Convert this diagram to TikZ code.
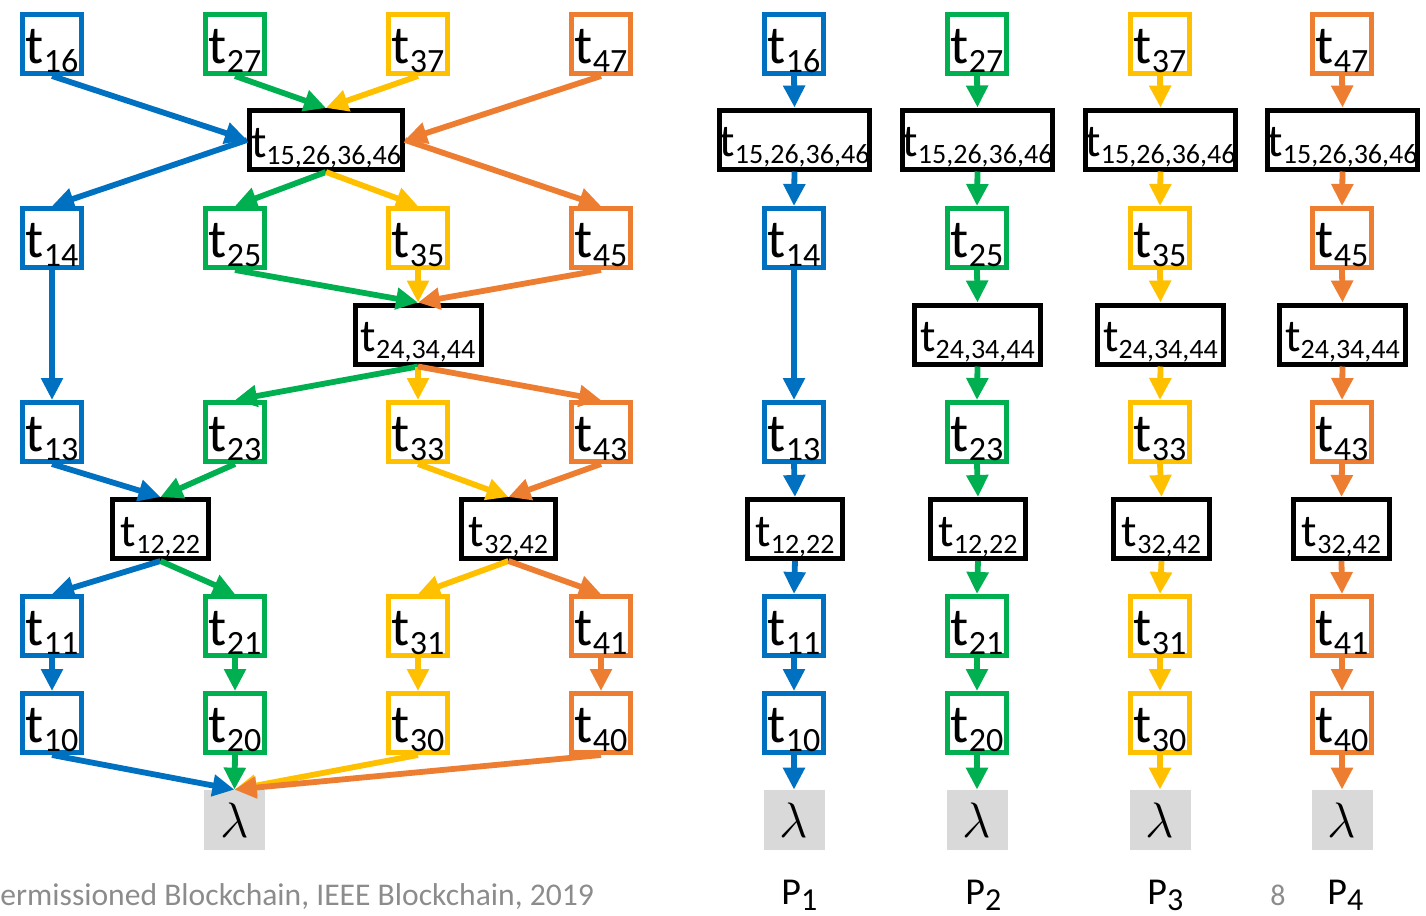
\documentclass[tikz,border=0pt]{standalone}
\usepackage{fontspec}
\setmainfont{Carlito}
\usetikzlibrary{arrows.meta}
\definecolor{cblue}{HTML}{0070C0}
\definecolor{cgreen}{HTML}{00B050}
\definecolor{cyellow}{HTML}{FFC000}
\definecolor{corange}{HTML}{ED7D31}
\definecolor{lgray}{HTML}{D9D9D9}
\definecolor{fgray}{HTML}{8C8C8C}
\newcommand\tS[1]{t\raisebox{-4.5pt}{\fontsize{17}{17}\selectfont #1}}
\newcommand\tB[1]{t\raisebox{-3.5pt}{\fontsize{14}{14}\selectfont #1}}
\newcommand\pS[1]{P\raisebox{-3pt}{\fontsize{16}{16}\selectfont #1}}
\begin{document}
\begin{tikzpicture}[x=0.5pt,y=-0.5pt,
  sbox/.style={draw=#1, line width=2.5pt, minimum width=29.5pt, minimum height=29.5pt,
    inner sep=0pt, text height=19pt, text depth=0pt, font=\fontsize{27}{27}\selectfont},
  bbox/.style={draw=black, line width=2.5pt, minimum width=#1, minimum height=29.5pt,
    inner sep=0pt, text height=17pt, text depth=0pt, font=\fontsize{23}{23}\selectfont},
  lam/.style={fill=lgray, minimum width=30.5pt, minimum height=30pt, inner sep=0pt,
    font=\fontsize{25}{25}\selectfont},
  arr/.style={draw=#1, line width=2.9pt, -{Triangle[width=10.5pt,length=11pt]}},
  plab/.style={anchor=base west, inner sep=0pt, font=\fontsize{19}{19}\selectfont},
]
\useasboundingbox (0,0) rectangle (1426,916);

% ---------- left graph ----------
\node[sbox=cblue]   (l16) at (52,44)  {\tS{16}};
\node[sbox=cgreen]  (l27) at (235,44) {\tS{27}};
\node[sbox=cyellow] (l37) at (418,44) {\tS{37}};
\node[sbox=corange] (l47) at (601,44) {\tS{47}};
\node[bbox=76.5pt]  (lA)  at (326,140) {\tB{15,26,36,46}};
\node[sbox=cblue]   (l14) at (52,238)  {\tS{14}};
\node[sbox=cgreen]  (l25) at (235,238) {\tS{25}};
\node[sbox=cyellow] (l35) at (418,238) {\tS{35}};
\node[sbox=corange] (l45) at (601,238) {\tS{45}};
\node[bbox=63pt]    (lB)  at (418,334.5) {\tB{24,34,44}};
\node[sbox=cblue]   (l13) at (52,432)  {\tS{13}};
\node[sbox=cgreen]  (l23) at (235,432) {\tS{23}};
\node[sbox=cyellow] (l33) at (418,432) {\tS{33}};
\node[sbox=corange] (l43) at (601,432) {\tS{43}};
\node[bbox=48pt]    (lC)  at (160.5,529) {\tB{12,22}};
\node[bbox=47pt]    (lD)  at (508.5,529) {\tB{32,42}};
\node[sbox=cblue]   (l11) at (52,626)  {\tS{11}};
\node[sbox=cgreen]  (l21) at (235,626) {\tS{21}};
\node[sbox=cyellow] (l31) at (418,626) {\tS{31}};
\node[sbox=corange] (l41) at (601,626) {\tS{41}};
\node[sbox=cblue]   (l10) at (52,723)  {\tS{10}};
\node[sbox=cgreen]  (l20) at (235,723) {\tS{20}};
\node[sbox=cyellow] (l30) at (418,723) {\tS{30}};
\node[sbox=corange] (l40) at (601,723) {\tS{40}};
\node[lam] (lL) at (234.5,820) {$\lambda$};

\draw[arr=cblue]   (l16.south) -- (lA.west);
\draw[arr=cgreen]  (l27.south) -- (lA.north);
\draw[arr=cyellow] (l37.south) -- (lA.north);
\draw[arr=corange] (l47.south) -- (lA.east);
\draw[arr=cblue]   (lA.west) -- (l14.north);
\draw[arr=cgreen]  (lA.south) -- (l25.north);
\draw[arr=cyellow] (lA.south) -- (l35.north);
\draw[arr=corange] (lA.east) -- (l45.north);
\draw[arr=cblue]   (l14.south) -- (l13.north);
\draw[arr=cgreen]  (l25.south) -- (lB.north);
\draw[arr=cyellow] (l35.south) -- (lB.north);
\draw[arr=corange] (l45.south) -- (lB.north);
\draw[arr=cgreen]  (lB.south) -- (l23.north);
\draw[arr=cyellow] (lB.south) -- (l33.north);
\draw[arr=corange] (lB.south) -- (l43.north);
\draw[arr=cblue]   (l13.south) -- (lC.north);
\draw[arr=cgreen]  (l23.south) -- (lC.north);
\draw[arr=cyellow] (l33.south) -- (lD.north);
\draw[arr=corange] (l43.south) -- (lD.north);
\draw[arr=cblue]   (lC.south) -- (l11.north);
\draw[arr=cgreen]  (lC.south) -- (l21.north);
\draw[arr=cyellow] (lD.south) -- (l31.north);
\draw[arr=corange] (lD.south) -- (l41.north);
\draw[arr=cblue]   (l11.south) -- (l10.north);
\draw[arr=cgreen]  (l21.south) -- (l20.north);
\draw[arr=cyellow] (l31.south) -- (l30.north);
\draw[arr=corange] (l41.south) -- (l40.north);
\draw[arr=cblue]   (l10.south) -- (lL.north);
\draw[arr=cgreen]  (l20.south) -- (lL.north);
\draw[arr=cyellow] (l30.south) -- (lL.north);
\draw[arr=corange] (l40.south) -- (lL.north);

% ---------- right: P1 ----------
\node[sbox=cblue] (r16) at (794,44)  {\tS{16}};
\node[bbox=75pt]  (r1A) at (794.5,139.5) {\tB{15,26,36,46}};
\node[sbox=cblue] (r14) at (794,238) {\tS{14}};
\node[sbox=cblue] (r13) at (794,432) {\tS{13}};
\node[bbox=47.5pt] (r1C) at (795,529) {\tB{12,22}};
\node[sbox=cblue] (r11) at (794,626) {\tS{11}};
\node[sbox=cblue] (r10) at (794,723) {\tS{10}};
\node[lam] (r1L) at (794,820) {$\lambda$};
\draw[arr=cblue] (r16.south) -- (r1A.north);
\draw[arr=cblue] (r1A.south) -- (r14.north);
\draw[arr=cblue] (r14.south) -- (r13.north);
\draw[arr=cblue] (r13.south) -- (r1C.north);
\draw[arr=cblue] (r1C.south) -- (r11.north);
\draw[arr=cblue] (r11.south) -- (r10.north);
\draw[arr=cblue] (r10.south) -- (r1L.north);

% ---------- right: P2 ----------
\node[sbox=cgreen] (r27) at (977,44)  {\tS{27}};
\node[bbox=75pt]   (r2A) at (977.5,139.5) {\tB{15,26,36,46}};
\node[sbox=cgreen] (r25) at (977,238) {\tS{25}};
\node[bbox=63pt]   (r2B) at (977.5,334.5) {\tB{24,34,44}};
\node[sbox=cgreen] (r23) at (977,432) {\tS{23}};
\node[bbox=47.5pt] (r2C) at (978,529) {\tB{12,22}};
\node[sbox=cgreen] (r21) at (977,626) {\tS{21}};
\node[sbox=cgreen] (r20) at (977,723) {\tS{20}};
\node[lam] (r2L) at (977,820) {$\lambda$};
\draw[arr=cgreen] (r27.south) -- (r2A.north);
\draw[arr=cgreen] (r2A.south) -- (r25.north);
\draw[arr=cgreen] (r25.south) -- (r2B.north);
\draw[arr=cgreen] (r2B.south) -- (r23.north);
\draw[arr=cgreen] (r23.south) -- (r2C.north);
\draw[arr=cgreen] (r2C.south) -- (r21.north);
\draw[arr=cgreen] (r21.south) -- (r20.north);
\draw[arr=cgreen] (r20.south) -- (r2L.north);

% ---------- right: P3 ----------
\node[sbox=cyellow] (r37) at (1160,44)  {\tS{37}};
\node[bbox=75pt]    (r3A) at (1160.5,139.5) {\tB{15,26,36,46}};
\node[sbox=cyellow] (r35) at (1160,238) {\tS{35}};
\node[bbox=63pt]    (r3B) at (1160.5,334.5) {\tB{24,34,44}};
\node[sbox=cyellow] (r33) at (1160,432) {\tS{33}};
\node[bbox=48pt]    (r3C) at (1161.5,529) {\tB{32,42}};
\node[sbox=cyellow] (r31) at (1160,626) {\tS{31}};
\node[sbox=cyellow] (r30) at (1160,723) {\tS{30}};
\node[lam] (r3L) at (1160,820) {$\lambda$};
\draw[arr=cyellow] (r37.south) -- (r3A.north);
\draw[arr=cyellow] (r3A.south) -- (r35.north);
\draw[arr=cyellow] (r35.south) -- (r3B.north);
\draw[arr=cyellow] (r3B.south) -- (r33.north);
\draw[arr=cyellow] (r33.south) -- (r3C.north);
\draw[arr=cyellow] (r3C.south) -- (r31.north);
\draw[arr=cyellow] (r31.south) -- (r30.north);
\draw[arr=cyellow] (r30.south) -- (r3L.north);

% ---------- right: P4 ----------
\node[sbox=corange] (r47) at (1342,44)  {\tS{47}};
\node[bbox=75pt]    (r4A) at (1342.5,139.5) {\tB{15,26,36,46}};
\node[sbox=corange] (r45) at (1342,238) {\tS{45}};
\node[bbox=63pt]    (r4B) at (1342.5,334.5) {\tB{24,34,44}};
\node[sbox=corange] (r43) at (1342,432) {\tS{43}};
\node[bbox=48pt]    (r4C) at (1341.5,529) {\tB{32,42}};
\node[sbox=corange] (r41) at (1342,626) {\tS{41}};
\node[sbox=corange] (r40) at (1342,723) {\tS{40}};
\node[lam] (r4L) at (1342,820) {$\lambda$};
\draw[arr=corange] (r47.south) -- (r4A.north);
\draw[arr=corange] (r4A.south) -- (r45.north);
\draw[arr=corange] (r45.south) -- (r4B.north);
\draw[arr=corange] (r4B.south) -- (r43.north);
\draw[arr=corange] (r43.south) -- (r4C.north);
\draw[arr=corange] (r4C.south) -- (r41.north);
\draw[arr=corange] (r41.south) -- (r40.north);
\draw[arr=corange] (r40.south) -- (r4L.north);

% ---------- labels ----------
\node[plab] (p1) at (781,904)  {\pS{1}};
\node[plab] (p2) at (965,904)  {\pS{2}};
\node[plab] (p3) at (1147,904) {\pS{3}};
\node[plab] (p4) at (1327,904) {\pS{4}};
\node[anchor=base west, inner sep=0pt, text=fgray, font=\fontsize{15}{15}\selectfont] (pg) at (1270,905) {8};
\node[anchor=base west, inner sep=0pt, text=fgray, font=\fontsize{15.8}{15.8}\selectfont] (foot) at (0,905) {ermissioned Blockchain, IEEE Blockchain, 2019};
\end{tikzpicture}
\end{document}
